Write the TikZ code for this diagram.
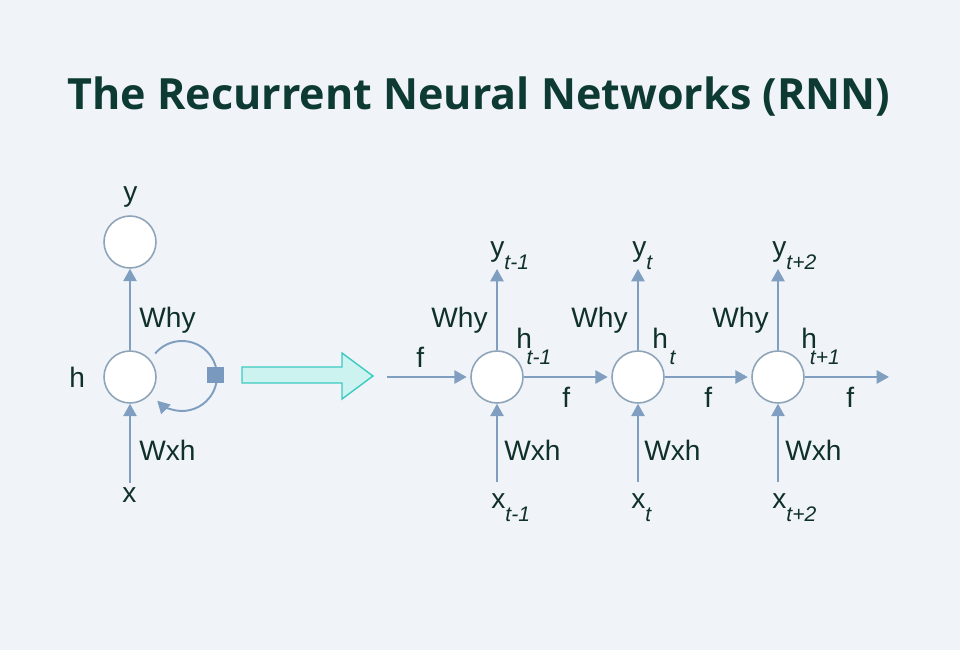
\documentclass[tikz,border=0pt]{standalone}
\usepackage{fontspec}
\setmainfont{Liberation Sans}
\newfontfamily\titlefont{Open Sans}
\usetikzlibrary{arrows.meta}
\usetikzlibrary{positioning}
\definecolor{bgcol}{HTML}{F0F4F9}
\definecolor{linkblue}{HTML}{7F9EC0}
\definecolor{cellgray}{HTML}{8EA4B8}
\definecolor{gateblue}{HTML}{7A99BE}
\definecolor{ink}{HTML}{10302B}
\definecolor{titleink}{HTML}{0D3A33}
\definecolor{bigfill}{HTML}{CDF3F0}
\definecolor{bigdraw}{HTML}{3CCBBF}
\tikzstyle{cell}=[circle,draw=cellgray,fill=white,line width=0.9pt,minimum size=1.04cm,inner sep=0pt]
\tikzstyle{link}=[-{Triangle[length=7pt,width=7.5pt]},draw=linkblue,line width=1.1pt]
\tikzstyle{lbl}=[text=ink,font=\fontsize{16}{16}\selectfont,inner sep=0pt,anchor=base west]
\tikzstyle{bigarrow}=[draw=bigdraw,fill=bigfill,line width=0.8pt,line join=miter]
% letter with a dropped italic index: #1 letter, #2 gap, #3 drop, #4 index
\newcommand{\idx}[4]{#1\hspace{#2}\raisebox{-#3}{\fontsize{12}{12}\selectfont\itshape #4}}

\begin{document}
\begin{tikzpicture}[x=0.02cm,y=0.02cm]
  \fill[bgcol] (0,0) rectangle (960,650);
  \useasboundingbox (0,0) rectangle (960,650);
  \node[text=titleink,inner sep=0pt,anchor=base] (title) at (479,540)
    {\titlefont\bfseries\fontsize{24.5}{24.5}\selectfont The Recurrent Neural Networks (RNN)};

  % folded network
  \node[cell] (yout) at (130,408) {};
  \node[cell] (h) at (130,273) {};
  \coordinate (xin) at (130,167);
  \draw[link] (xin) -- (h);
  \draw[link] (h) -- (yout);
  \coordinate (loopc) at (182,274);
  \draw[link] ([shift={(140:0.7cm)}]loopc) arc[start angle=140,end angle=-135,radius=0.7cm];
  \node[fill=gateblue,minimum size=0.34cm,inner sep=0pt] (gate) at (215.5,275) {};
  \node[lbl] (ylbl) at (123,448) {y};
  \node[lbl] (hlbl) at (69,263) {h};
  \node[lbl] (xlbl) at (122,148) {x};
  \node[lbl] (whyl) at (139,323) {Why};
  \node[lbl] (wxhl) at (139,190) {Wxh};

  % unfold arrow
  \draw[bigarrow] (242,267) -- (342,267) -- (342,251) -- (373,274) -- (342,297)
    -- (342,283) -- (242,283) -- cycle;

  % unrolled network
  \foreach \i/\cx in {1/497,2/638,3/778} {
    \node[cell] (c\i) at (\cx,273) {};
    \coordinate (top\i) at (\cx,381);
    \coordinate (bot\i) at (\cx,168);
    \draw[link] (bot\i) -- (c\i);
    \draw[link] (c\i) -- (top\i);
  }
  \coordinate (fin) at (387,273);
  \coordinate (fout) at (889,273);
  \draw[link,shorten >=2pt] (fin) -- (c1);
  \draw[link,shorten >=2pt] (c1) -- (c2);
  \draw[link,shorten >=2pt] (c2) -- (c3);
  \draw[link] (c3) -- (fout);

  \node[lbl] (y1) at (490,394) {\idx{y}{0pt}{7.5pt}{t-1}};
  \node[lbl] (y2) at (632,394) {\idx{y}{0pt}{7.5pt}{t}};
  \node[lbl] (y3) at (772,394) {\idx{y}{0pt}{7.5pt}{t+2}};
  \node[lbl] (h1) at (516,302) {\idx{h}{-3pt}{9.5pt}{t-1}};
  \node[lbl] (h2) at (652,302) {\idx{h}{1pt}{9.5pt}{t}};
  \node[lbl] (h3) at (801,302) {\idx{h}{-4pt}{9.5pt}{t+1}};
  \node[lbl] (x1) at (491,142) {\idx{x}{0pt}{7.5pt}{t-1}};
  \node[lbl] (x2) at (631,142) {\idx{x}{0pt}{7.5pt}{t}};
  \node[lbl] (x3) at (772,142) {\idx{x}{0pt}{7.5pt}{t+2}};
  \foreach \i/\wx/\fx in {1/431/562,2/571/704,3/712/846} {
    \node[lbl] (why\i) at (\wx,323) {Why};
    \node[lbl] (wxh\i) at (\wx+73,190) {Wxh};
    \node[lbl] (f\i) at (\fx,243) {f};
  }
  \node[lbl] (f0) at (416,283) {f};
\end{tikzpicture}
\end{document}
